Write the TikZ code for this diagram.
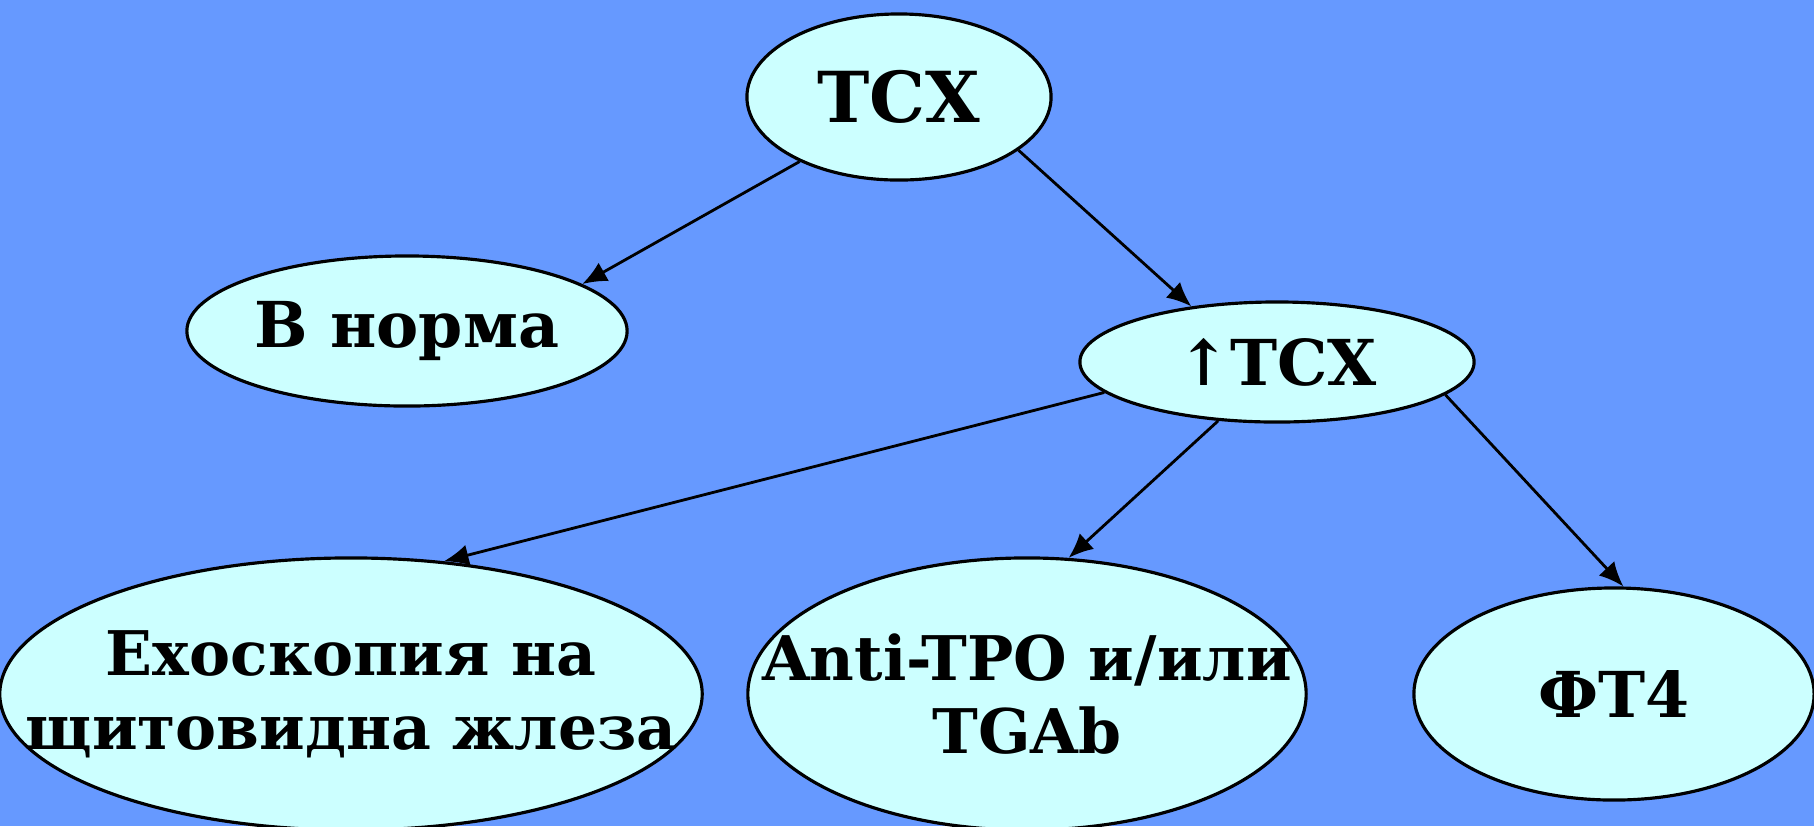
\documentclass[tikz,border=0pt]{standalone}
\usepackage{fontspec}
\setmainfont{DejaVu Serif}
\usetikzlibrary{shapes.geometric,arrows.meta}

\definecolor{slidebg}{HTML}{6699FF}
\definecolor{bubble}{HTML}{CCFFFF}

\begin{document}
\begin{tikzpicture}[x=0.01cm,y=-0.01cm,
  bub/.style={ellipse,draw=black,line width=0.9pt,fill=bubble,inner sep=0pt},
  txt/.style={font=\bfseries\fontsize{#1}{21}\selectfont,align=center},
  txt/.default=17.5,
  arr/.style={-{Latex[length=7pt,width=6pt]},line width=0.8pt}]
  \fill[slidebg] (0,0) rectangle (1814,826);
  \useasboundingbox (0,0) rectangle (1814,826);

  \node[bub,minimum width=3.04cm,minimum height=1.66cm,
    label={[txt=20]center:ТСХ}] (tsh) at (899,97) {};
  \node[bub,minimum width=4.4cm,minimum height=1.5cm,
    label={[txt=18]center:В норма}] (norma) at (407,331) {};
  \node[bub,minimum width=3.94cm,minimum height=1.2cm,
    label={[txt=18]center:↑ТСХ}] (up) at (1277,362) {};
  \node[bub,minimum width=7.02cm,minimum height=2.72cm,
    label={[txt]center:Ехоскопия на\\щитовидна жлеза}] (echo) at (351,694) {};
  \node[bub,minimum width=5.58cm,minimum height=2.72cm,
    label={[txt]center:Anti-TPO и/или\\TGAb}] (anti) at (1027,694) {};
  \node[bub,minimum width=4cm,minimum height=2.12cm,
    label={[txt=18]center:ФТ4}] (ft4) at (1614,694) {};

  \draw[arr] (tsh.213) -- (norma.15);
  \draw[arr] (tsh.-24) -- (up.147);
  \draw[arr] (up.190) -- (echo.55);
  \draw[arr] (up.225) -- (anti.73);
  \draw[arr] (up.-11) -- (ft4.85);
\end{tikzpicture}
\end{document}
